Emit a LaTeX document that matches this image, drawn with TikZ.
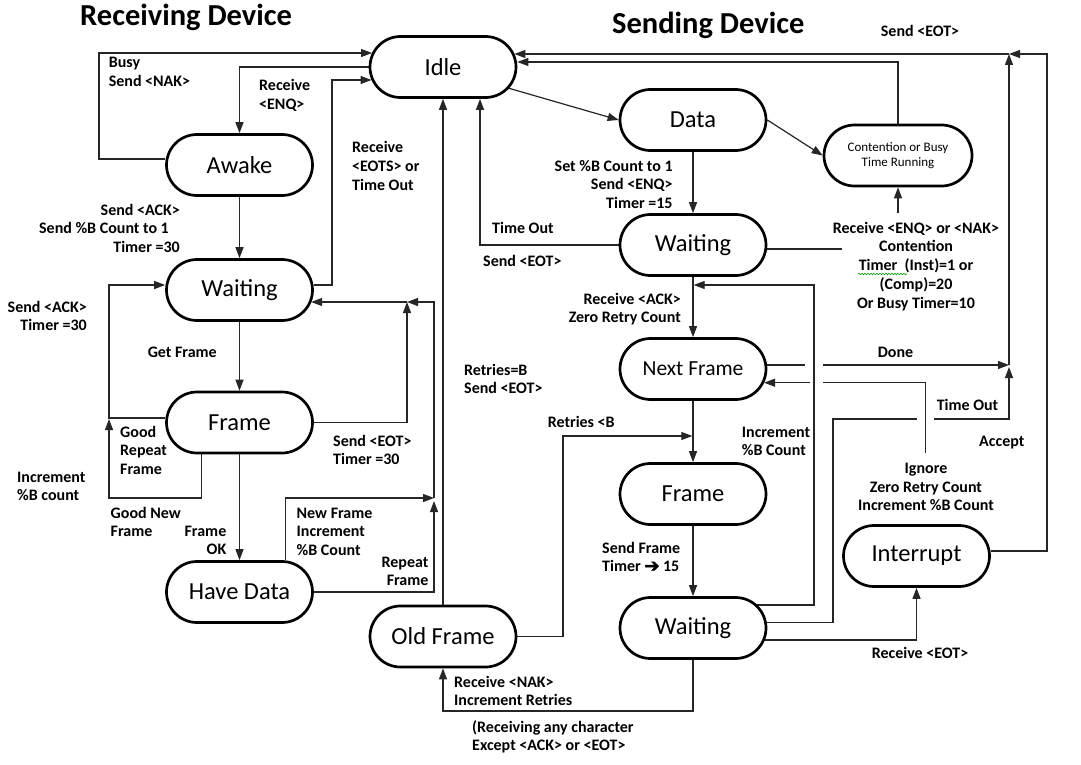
\documentclass[tikz,border=0pt]{standalone}
\usepackage{fontspec}
\setmainfont{Carlito}
\newfontfamily\djvb[FakeBold=2.5]{DejaVu Sans}
\usetikzlibrary{arrows.meta,calc,decorations.pathmorphing}
\pgfdeclarelayer{bg}
\pgfsetlayers{bg,main}
\newcommand\lbl[2]{\begin{tabular}[t]{@{}#1@{}}#2\end{tabular}}
\tikzset{
  st/.style={draw=black, fill=white, line width=2.7pt, rounded corners=30.5pt,
    minimum width=146pt, minimum height=61pt, inner sep=0pt,
    font=\fontsize{24.5}{29}\selectfont},
  lab/.style={inner sep=0pt, font=\bfseries\fontsize{16}{18.8}\selectfont},
  ttl/.style={inner sep=0pt, font=\bfseries\fontsize{30.5}{36}\selectfont},
  conn/.style={draw=black!85, line width=1.2pt},
  arr/.style={conn, -{Triangle[length=11pt,width=8pt]}},
}
\begin{document}
\begin{tikzpicture}[x=1pt,y=-1pt]
\useasboundingbox (0,0) rectangle (1081,765);

% titles
\node[ttl, anchor=base west] (tR) at (80,26) {Receiving Device};
\node[ttl, anchor=base west] (tS) at (612,34) {Sending Device};

% states
\node[st] (idle) at (443,67) {Idle};
\node[st] (awake) at (239.5,165) {Awake};
\node[st] (waitR) at (239.5,290) {Waiting};
\node[st] (frameR) at (239.5,422.5) {Frame};
\node[st] (havedata) at (239.5,592) {Have Data};
\node[st] (oldframe) at (443,636.5) {Old Frame};
\node[st] (data) at (693,120) {Data};
\node[st, minimum width=148pt, font=\fontsize{13}{15}\selectfont, align=center] (cont) at (898,155.5) {Contention or Busy\\Time Running};
\node[st] (waitS) at (693,245) {Waiting};
\node[st, font=\fontsize{21.5}{26}\selectfont] (nextf) at (693,369) {Next Frame};
\node[st] (frameS) at (693,494) {Frame};
\node[st] (waitS2) at (693,628) {Waiting};
\node[st] (intr) at (916.5,556) {Interrupt};

% junctions and free ends
\coordinate (jR1) at (407,302);
\coordinate (jR2) at (434,498);
\coordinate (jT) at (1009,54);
\coordinate (jD) at (1009,365);
\coordinate (jW) at (693,285);
\coordinate (jF) at (693,436);
\coordinate (cEnd) at (842,249);
\coordinate (cStart) at (898,213);
\coordinate (g1a) at (805,365);
\coordinate (g1b) at (823,365);
\coordinate (ig) at (925.7,453);
\coordinate (g2a) at (823,382.7);
\coordinate (g2b) at (810,382.7);
\coordinate (g3a) at (917,419);
\coordinate (g3b) at (934,419);

\begin{pgfonlayer}{bg}
\fill[white] (0,0) rectangle (1081,765);
% receiving device
\draw[arr] ([yshift=6pt]awake.west) -| (99,53) -- ([xshift=3.4pt,yshift=14pt]idle.west);
\draw[arr] (idle.west) -| (awake.north);
\draw[arr] ([yshift=5pt]waitR.east) -| (332,80) -- ([xshift=2.9pt,yshift=-13pt]idle.west);
\draw[arr] (awake.south) -- (waitR.north);
\draw[arr] (waitR.south) -- (frameR.north);
\draw[arr] ([yshift=4.5pt]frameR.west) -| (109,285) -- ([yshift=5pt]waitR.west);
\draw[arr] ([xshift=-38pt]frameR.south) |- (109,498) -- (109,419);
\draw[arr] (frameR.south) -- (havedata.north);
\draw[arr] (frameR.east) -| (jR1);
\draw[arr] (jR1) -- ([xshift=-2.7pt,yshift=-12pt]waitR.east);
\draw[arr] ([xshift=46pt]havedata.north) |- (jR2);
\draw[arr] (havedata.east) -| ([yshift=-3pt]jR2);
\draw[arr] (jR2) |- (jR1);
\draw[arr] (oldframe.north) -- (idle.south);
\draw[arr] (waitS.west) -| ([xshift=37pt]idle.south);
% sending device
\draw[arr] ([xshift=65pt,yshift=-21pt]idle.center) -- (data.west);
\draw[arr] (data.east) -- (cont.west);
\draw[arr] (cont.north) |- ([yshift=5pt]idle.east);
\draw[arr] ([yshift=5pt]intr.east) -| (1047,54) -- (jT);
\draw[arr] (jD) -- (jT);
\draw[arr] (jT) -- ([xshift=-2.9pt,yshift=13pt]idle.east);
\draw[arr] (data.south) -- (waitS.north);
\draw[conn] ([yshift=-4pt]waitS.east) -- (cEnd);
\draw[arr] (cStart) -- (cont.south);
\draw[arr] (waitS.south) -- (nextf.north);
\draw[arr] ([xshift=-12pt,yshift=23pt]waitS2.east) -| (814,285) -- ([xshift=0.7pt]jW);
\draw[conn] ([yshift=4pt]nextf.east) -- (g1a);
\draw[arr] (g1b) -- (jD);
\draw[conn] (ig) |- (g2a);
\draw[arr] (g2b) -- ([xshift=-3.3pt,yshift=-13.7pt]nextf.east);
\draw[conn] ([yshift=5.3pt]waitS2.east) -| (833,419) -- (g3a);
\draw[arr] (g3b) -| ([yshift=-2pt]jD);
\draw[arr] ([xshift=-2.5pt,yshift=-12pt]waitS2.east) -| (intr.south);
\draw[arr] (waitS2.south) -- (693,711) -| (oldframe.south);
\draw[arr] (oldframe.east) -| (563,436) -- ([xshift=-0.7pt]jF);
\draw[arr] (nextf.south) -- (frameS.north);
\draw[arr] (frameS.south) -- (waitS2.north);
\end{pgfonlayer}

% labels
\node[lab, anchor=base west] (l1) at (108.6,68) {\lbl{l}{Busy\\Send <NAK>}};
\node[lab, anchor=base west] (l2) at (259,91) {\lbl{l}{Receive\\<ENQ>}};
\node[lab, anchor=base west] (l3) at (352,153) {\lbl{l}{Receive\\<EOTS> or\\Time Out}};
\node[lab, anchor=base east] (l4) at (180,215) {\lbl{r}{Send <ACK>\\Send \%B Count to 1\hspace*{11pt}\\Timer =30}};
\node[lab, anchor=base west] (l5) at (147.6,357) {Get Frame};
\node[lab, anchor=base east] (l6) at (87,312) {\lbl{r}{Send <ACK>\\Timer =30}};
\node[lab, anchor=base west] (l7) at (120,437) {\lbl{l}{Good\\Repeat\\Frame}};
\node[lab, anchor=base west] (l8) at (17,482) {\lbl{l}{Increment\\\%B count}};
\node[lab, anchor=base west] (l9) at (110.5,518) {\lbl{l}{Good New\\Frame}};
\node[lab, anchor=base east] (l10) at (226.5,536) {\lbl{r}{Frame\\OK}};
\node[lab, anchor=base west] (l11) at (333,446) {\lbl{l}{Send <EOT>\\Timer =30}};
\node[lab, anchor=base west] (l12) at (296.5,518) {\lbl{l}{New Frame\\Increment\\\%B Count}};
\node[lab, anchor=base east] (l13) at (428.6,567) {\lbl{r}{Repeat\\Frame}};
\node[lab, anchor=base west] (l14) at (464,375) {\lbl{l}{Retries=B\\Send <EOT>}};
\node[lab, anchor=base west] (l15) at (492,233) {Time Out};
\node[lab, anchor=base west] (l16) at (483,266) {Send <EOT>};
\node[lab, anchor=base east] (l17) at (672.8,171) {\lbl{r}{Set \%B Count to 1\\Send <ENQ>\\Timer =15}};
\node[lab, anchor=base east] (l18) at (681,304) {\lbl{r}{Receive <ACK>\\Zero Retry Count}};
\node[lab, anchor=base] (l19) at (916,233) {\lbl{c}{Receive <ENQ> or <NAK>\\Contention\\Timer\ \ (Inst)=1 or\\(Comp)=20\\Or Busy Timer=10}};
\node[lab, anchor=base west] (l20) at (880.7,37) {Send <EOT>};
\node[lab, anchor=base west] (l21) at (877.7,357) {Done};
\node[lab, anchor=base west] (l22) at (936.6,410.7) {Time Out};
\node[lab, anchor=base west] (l23) at (979,446.7) {Accept};
\node[lab, anchor=base] (l24) at (926,473.3) {\lbl{c}{Ignore\\Zero Retry Count\\Increment \%B Count}};
\node[lab, anchor=base west] (l25) at (741.7,437) {\lbl{l}{Increment\\\%B Count}};
\node[lab, anchor=base west] (l26) at (547.6,427.7) {Retries <B};
\node[lab, anchor=base west] (l27) at (602,553) {\lbl{l}{Send Frame\\Timer {\djvb\mdseries\fontsize{18}{18}\selectfont\char"2794} 15}};
\node[lab, anchor=base] (l28) at (920,658) {Receive <EOT>};
\node[lab, anchor=base west] (l29) at (454,687) {\lbl{l}{Receive <NAK>\\Increment Retries}};
\node[lab, anchor=base west] (l30) at (472,732) {\lbl{l}{(Receiving any character\\Except <ACK> or <EOT>}};

% spell-check squiggle under "Timer"
\draw[green!60!black, line width=0.6pt, decorate,
  decoration={snake, amplitude=0.8pt, segment length=3pt}] (858,274) -- (907,274);
\end{tikzpicture}
\end{document}
